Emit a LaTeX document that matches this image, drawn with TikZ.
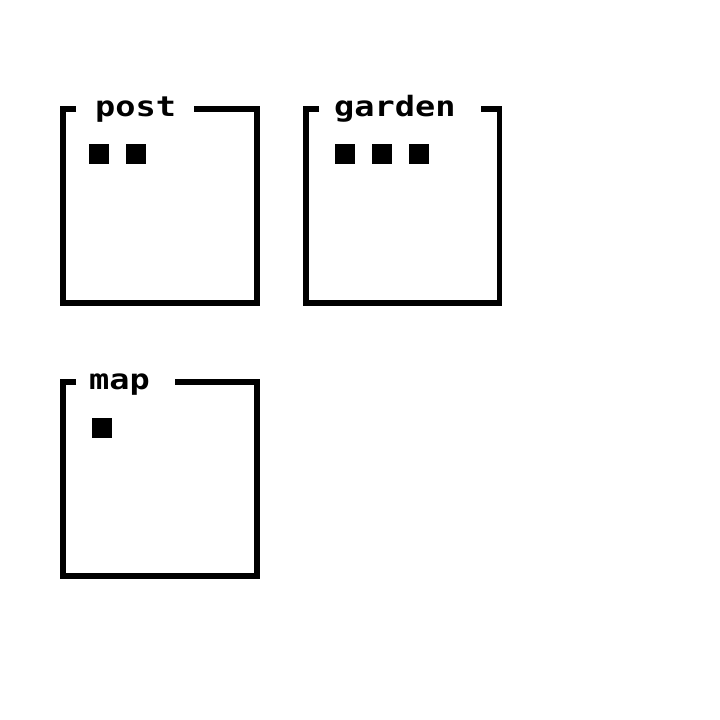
\documentclass[tikz,border=0pt]{standalone}
\usepackage{fontspec}
\newfontfamily\pixfont[FakeStretch=1.2]{DejaVu Sans Mono}
\begin{document}
\begin{tikzpicture}[x=1pt,y=-1pt,
  frameline/.style={line width=5.8pt, line cap=butt, line join=miter, draw=black},
  tok/.style={fill=black, draw=none, minimum size=20pt, inner sep=0pt, outer sep=0pt},
  lbl/.style={font=\pixfont\bfseries\fontsize{28}{28}\selectfont, anchor=base west, inner sep=0pt}]
\useasboundingbox (0,0) rectangle (720,720);
% post
\node[lbl] (postlbl) at (95,116) {post};
\coordinate (p1) at (76,109);
\coordinate (p2) at (194,109);
\draw[frameline] (p1) -- (63,109) -- (63,303) -- (257,303) -- (257,109) -- (p2);
\node[tok] (pa) at (99,154) {};
\node[tok] (pb) at (136,154) {};
% garden
\node[lbl] (gardenlbl) at (334,116) {garden};
\coordinate (g1) at (319,109);
\coordinate (g2) at (481,109);
\draw[frameline] (g1) -- (306,109) -- (306,303) -- (499.5,303) -- (499.5,109) -- (g2);
\node[tok] (ga) at (345,154) {};
\node[tok] (gb) at (382,154) {};
\node[tok] (gc) at (419,154) {};
% map
\node[lbl] (maplbl) at (89,389) {map};
\coordinate (m1) at (76,382);
\coordinate (m2) at (175,382);
\draw[frameline] (m1) -- (63,382) -- (63,576) -- (257,576) -- (257,382) -- (m2);
\node[tok] (ma) at (102,428) {};
\end{tikzpicture}
\end{document}
